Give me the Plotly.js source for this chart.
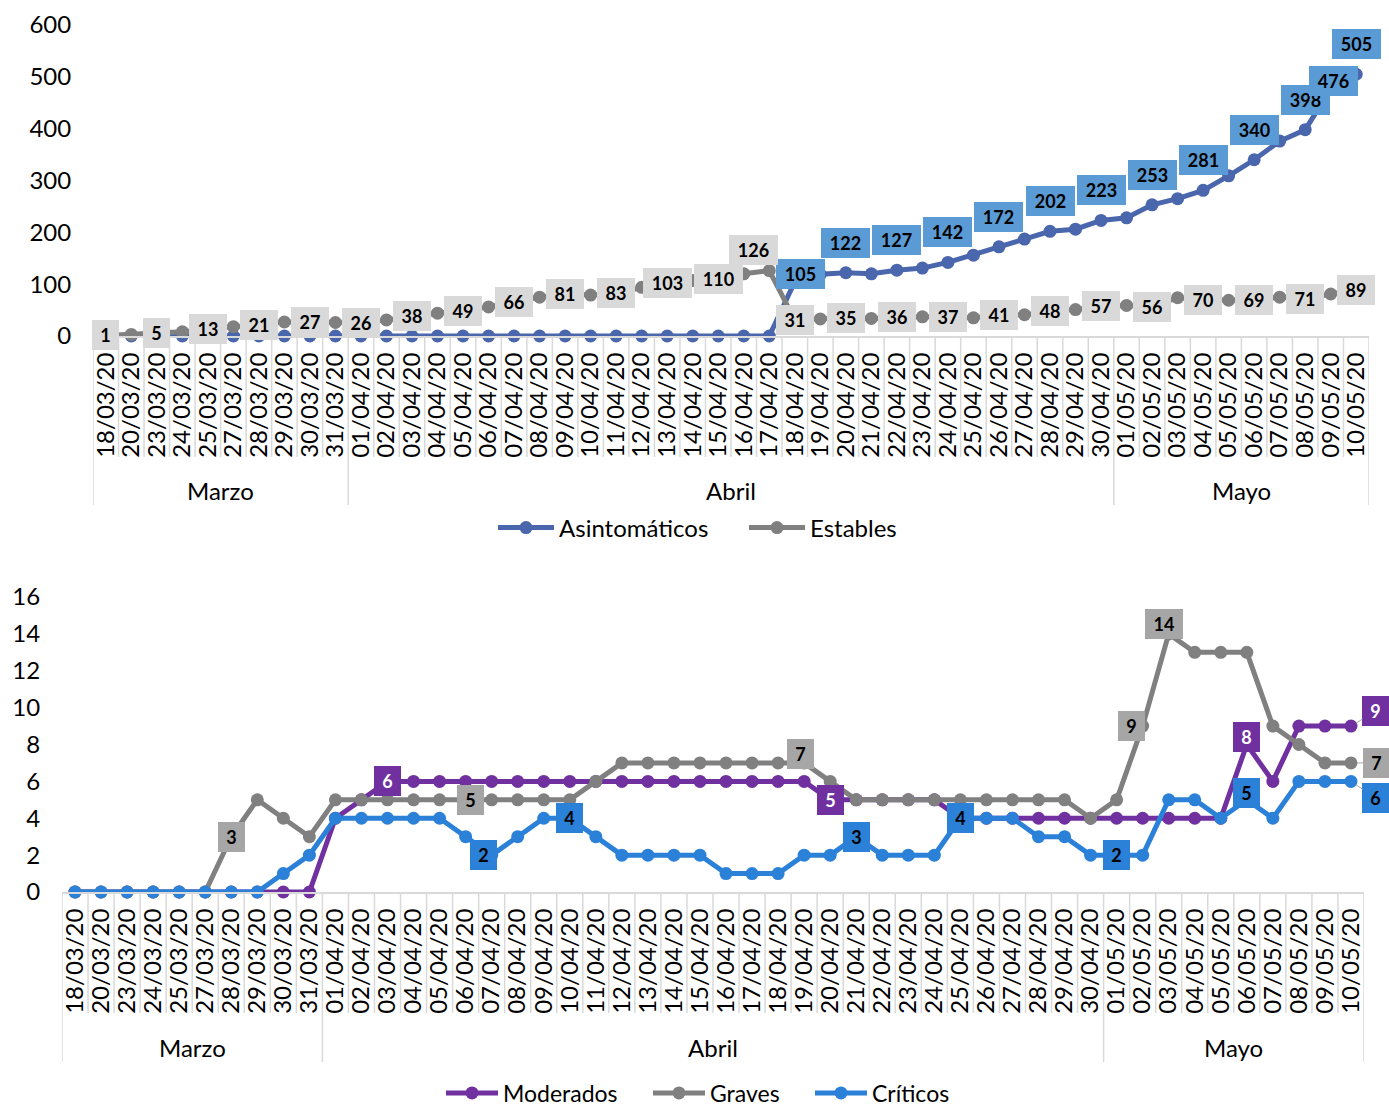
<!DOCTYPE html>
<html><head><meta charset="utf-8">
<script src="https://cdn.plot.ly/plotly-3.0.1.min.js"></script>
<style>html,body{margin:0;padding:0;background:#fff;overflow:hidden;width:1389px;height:1108px}#chart{position:absolute;left:0;top:0;width:1389px;height:1108px}</style>
</head><body><div id="chart"></div>
<script>
// ---------- DATA ----------
const fechas = ['18/03/20','20/03/20','23/03/20','24/03/20','25/03/20','27/03/20','28/03/20','29/03/20','30/03/20','31/03/20',
 '01/04/20','02/04/20','03/04/20','04/04/20','05/04/20','06/04/20','07/04/20','08/04/20','09/04/20','10/04/20',
 '11/04/20','12/04/20','13/04/20','14/04/20','15/04/20','16/04/20','17/04/20','18/04/20','19/04/20','20/04/20',
 '21/04/20','22/04/20','23/04/20','24/04/20','25/04/20','26/04/20','27/04/20','28/04/20','29/04/20','30/04/20',
 '01/05/20','02/05/20','03/05/20','04/05/20','05/05/20','06/05/20','07/05/20','08/05/20','09/05/20','10/05/20'];
const meses = ['Marzo','Abril','Mayo'];
const mesPrimero = [0,10,40];
const mesUltimo = [9,39,49];

const asintomaticos = [0,0,0,0,0,0,0,0,0,0, 0,0,0,0,0,0,0,0,0,0, 0,0,0,0,0,0,0,105,119,122,
 120,127,131,142,156,172,187,202,206,223, 228,253,265,281,309,340,376,398,476,505];
const estables = [1,3,5,8,13,18,21,27,27,26, 26,31,38,44,49,56,66,75,81,79,
 83,94,103,107,110,120,126,31,33,35, 34,36,37,37,35,41,41,48,51,57, 59,56,74,70,69,69,75,71,81,89];

const moderados = [0,0,0,0,0,0,0,0,0,0, 4,5,6,6,6,6,6,6,6,6, 6,6,6,6,6,6,6,6,6,5,
 5,5,5,5,4,4,4,4,4,4, 4,4,4,4,4,8,6,9,9,9];
const graves = [0,0,0,0,0,0,3,5,4,3, 5,5,5,5,5,5,5,5,5,5, 6,7,7,7,7,7,7,7,7,6,
 5,5,5,5,5,5,5,5,5,4, 5,9,14,13,13,13,9,8,7,7];
const criticos = [0,0,0,0,0,0,0,0,1,2, 4,4,4,4,4,3,2,3,4,4, 3,2,2,2,2,1,1,1,2,2,
 3,2,2,2,4,4,4,3,3,2, 2,2,5,5,4,5,4,6,6,6];

// which points carry a data label
const etiqEstables = [0,2,4,6,8,10,12,14,16,18,20,22,24,26,27,29,31,33,35,37,39,41,43,45,47,49];
const etiqAsint = [27,29,31,33,35,37,39,41,43,45,47,48,49];
const etiqModerados = [12,29,45,49];
const etiqGraves = [6,15,28,41,42,49];
const etiqCriticos = [16,19,30,34,40,45,49];

// ---------- STYLE / LAYOUT ----------
const W = 1389, H = 1108;
const FONT = 'Lato, "Open Sans", sans-serif';
const py = p => 1 - p / H;
const px = p => p / W;
const idx = fechas.map((_, i) => i);

const C = {
  asint: '#4A66AC', asintLbl: '#5B9BD5',
  est: '#808080', estLbl: '#D9D9D9',
  mod: '#7030A0', modLbl: '#7030A0',
  grav: '#808080', gravLbl: '#A6A6A6',
  crit: '#2B80D8', critLbl: '#2B80D8',
  sep: '#D9D9D9'
};

// label offsets (px): [dx, dy(up positive), arrow]
const offAsint = {27:[6,8], 48:[3,8]};
const offEst = {26:[-16,21]};
const offMod = {45:[0,8], 49:[25,15,true]};
const offGrav = {15:[5,0], 28:[-4,9], 41:[-11,0], 42:[-5,10], 49:[26,0,true]};
const offCrit = {16:[-8,0], 45:[0,7], 49:[25,-17,true]};

const traces = [];
function addLine(name, y, color, xa, ya, leg) {
  traces.push({
    type: 'scatter', mode: 'lines+markers', name: name, x: idx, y: y,
    xaxis: xa, yaxis: ya, legend: leg, cliponaxis: false,
    line: {color: color, width: 5}, marker: {color: color, size: 13},
    hoverinfo: 'skip'
  });
}
addLine('Asintomáticos', asintomaticos, C.asint, 'x', 'y', 'legend');
addLine('Estables', estables, C.est, 'x', 'y', 'legend2');
addLine('Moderados', moderados, C.mod, 'x2', 'y2', 'legend3');
addLine('Graves', graves, C.grav, 'x2', 'y2', 'legend4');
addLine('Críticos', criticos, C.crit, 'x2', 'y2', 'legend5');

const annotations = [];
function addLabels(list, vals, bg, fc, xa, ya, defDy, offs) {
  list.forEach(i => {
    const v = vals[i];
    const o = offs[i] || [0, defDy];
    const txt = String(v);
    const a = {
      xref: xa, yref: ya, x: i, y: v, text: '<b>' + txt + '</b>',
      font: {family: FONT, size: 18, color: fc},
      bgcolor: bg, borderpad: 5, borderwidth: 0,
      width: 11 * txt.length + 6, height: 20, align: 'center', valign: 'middle'
    };
    if (o[2]) {
      a.showarrow = true; a.arrowhead = 0; a.arrowwidth = 1; a.arrowcolor = '#A6A6A6';
      a.ax = o[0]; a.ay = -o[1]; a.standoff = 6;
    } else {
      a.showarrow = false; a.xshift = o[0]; a.yshift = o[1];
    }
    annotations.push(a);
  });
}
addLabels(etiqAsint, asintomaticos, C.asintLbl, '#000', 'x', 'y', 30, offAsint);
addLabels(etiqEstables, estables, C.estLbl, '#000', 'x', 'y', 0, offEst);
addLabels(etiqModerados, moderados, C.modLbl, '#fff', 'x2', 'y2', 0, offMod);
addLabels(etiqGraves, graves, C.gravLbl, '#000', 'x2', 'y2', 0, offGrav);
addLabels(etiqCriticos, criticos, C.critLbl, '#000', 'x2', 'y2', 0, offCrit);

// multi-level category axis decorations
const shapes = [];
function catAxis(xa, axisPx, tickDepth, groupDepth, groupLabelPx) {
  for (let i = 0; i <= fechas.length; i++) {
    const isGroup = i === 0 || i === fechas.length || mesPrimero.indexOf(i) >= 0;
    shapes.push({type: 'line', xref: xa, yref: 'paper', x0: i - 0.5, x1: i - 0.5,
      y0: py(axisPx), y1: py(axisPx + (isGroup ? groupDepth : tickDepth)),
      line: {color: C.sep, width: 1.5}});
  }
  meses.forEach((m, k) => {
    annotations.push({xref: xa, yref: 'paper', x: (mesPrimero[k] + mesUltimo[k]) / 2, y: py(groupLabelPx),
      text: m, showarrow: false, font: {family: FONT, size: 24, color: '#000'}, yanchor: 'middle'});
  });
}
catAxis('x', 336, 121, 169, 490);
catAxis('x2', 892, 121, 170, 1047);

const tickfont = {family: FONT, size: 24, color: '#000'};
const xcommon = {
  range: [-0.5, fechas.length - 0.5], tickmode: 'array', tickvals: idx, ticktext: fechas,
  tickangle: -90, tickfont: tickfont, showline: true, linecolor: C.sep, linewidth: 2,
  showgrid: false, zeroline: false, ticks: 'outside', ticklen: 5, tickcolor: 'rgba(0,0,0,0)',
  fixedrange: true, automargin: false
};
const ycommon = {
  tickfont: {family: FONT, size: 24, color: '#000'}, showgrid: false, zeroline: false, showline: false,
  ticks: 'outside', ticklen: 16, tickcolor: 'rgba(0,0,0,0)', fixedrange: true, automargin: false
};

function leg(leftPx, centerPx, iw, fs) {
  return {orientation: 'h', x: px(leftPx), xanchor: 'left', y: py(centerPx), yanchor: 'middle',
    font: {family: FONT, size: fs, color: '#000'}, bgcolor: 'rgba(0,0,0,0)', itemwidth: iw, borderwidth: 0};
}

const layout = {
  width: W, height: H, margin: {l: 0, r: 0, t: 0, b: 0, autoexpand: false},
  paper_bgcolor: '#fff', plot_bgcolor: '#fff', font: {family: FONT, color: '#000'},
  xaxis: Object.assign({}, xcommon, {domain: [px(93), px(1369)], anchor: 'y'}),
  yaxis: Object.assign({}, ycommon, {domain: [py(336), py(25)], range: [0, 600], dtick: 100, anchor: 'x'}),
  xaxis2: Object.assign({}, xcommon, {domain: [px(62), px(1364)], anchor: 'y2'}),
  yaxis2: Object.assign({}, ycommon, {domain: [py(892), py(597)], range: [0, 16], dtick: 2, anchor: 'x2'}),
  showlegend: true,
  legend: leg(493, 528, 56, 24),
  legend2: leg(744, 528, 56, 24),
  legend3: leg(441, 1093, 52, 23),
  legend4: leg(648, 1093, 52, 23),
  legend5: leg(810, 1093, 52, 23),
  annotations: annotations, shapes: shapes
};

Plotly.newPlot('chart', traces, layout, {displayModeBar: false, staticPlot: true});
</script>
</body></html>
